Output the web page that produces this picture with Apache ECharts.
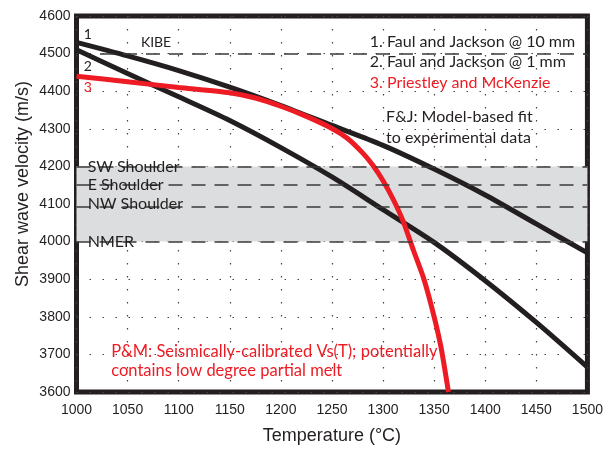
<!DOCTYPE html>
<html>
<head>
<meta charset="utf-8">
<script src="https://cdn.jsdelivr.net/npm/echarts@6/dist/echarts.min.js"></script>
<style>html,body{margin:0;padding:0;background:#fff}#c{width:606px;height:450px}</style>
</head>
<body>
<div id="c"></div>
<script>
// ---- data ----
const fj10T = [1000, 1050, 1100, 1150, 1200, 1250, 1300, 1350, 1400, 1450, 1500];
const fj10V = [4530, 4494, 4455, 4411, 4362, 4309, 4256, 4193, 4124, 4047, 3970];
const fj1T  = [1000, 1050, 1100, 1150, 1200, 1250, 1300, 1350, 1400, 1450, 1500];
const fj1V  = [4510, 4447, 4385, 4322, 4250, 4172, 4085, 3998, 3896, 3785, 3666];
const pmT   = [1000, 1050, 1100, 1150, 1175, 1200, 1225, 1250, 1265, 1280, 1290, 1300, 1310, 1320, 1330, 1340, 1350, 1357, 1364];
const pmV   = [4440, 4425, 4410, 4396, 4382, 4360, 4333, 4301, 4275, 4236, 4203, 4162, 4112, 4052, 3975, 3900, 3800, 3715, 3600];
const bandRange = [4000, 4200];
const regionNames = ['SW Shoulder', 'E Shoulder', 'NW Shoulder', 'NMER'];
const regionValues = [4200, 4150, 4093, 4000];
const kibeValue = 4500;
const kibeStartT = 1023;
const xTicks = {min: 1000, max: 1500, step: 50};
const yTicks = {min: 3600, max: 4600, step: 100};

const BLACK = '#231f20', RED = '#ed1c24';
const ANN_FONT = 'Lato';

const chart = echarts.init(document.getElementById('c'), null, {renderer: 'canvas'});
const pairs = (t, v) => t.map((x, i) => [x, v[i]]);
const plain = v => String(v);

const option = {
  animation: false,
  grid: {left: 76.5, right: 14, top: 16, bottom: 56, show: true, borderColor: BLACK, borderWidth: 5, backgroundColor: 'transparent'},
  xAxis: {
    type: 'value', min: xTicks.min, max: xTicks.max, interval: xTicks.step,
    axisLine: {show: false}, axisTick: {show: false},
    axisLabel: {fontFamily: 'Liberation Sans', fontSize: 14, color: BLACK, margin: 11, formatter: plain},
    splitLine: {show: true, lineStyle: {color: '#444', width: 1.2, type: [1.5, 11.5]}},
    name: 'Temperature (°C)', nameLocation: 'middle', nameGap: 35,
    nameTextStyle: {fontFamily: 'Liberation Sans', fontSize: 18, color: BLACK}
  },
  yAxis: {
    type: 'value', min: yTicks.min, max: yTicks.max, interval: yTicks.step,
    axisLine: {show: false}, axisTick: {show: false},
    axisLabel: {fontFamily: 'Liberation Sans', fontSize: 14, color: BLACK, margin: 6, formatter: plain},
    splitLine: {show: true, lineStyle: {color: '#444', width: 1.2, type: [1.5, 11.5]}}
  },
  series: [
    {
      type: 'line', data: [], z: -1, silent: true,
      markArea: {silent: true, itemStyle: {color: '#dcdddf'},
        data: [[{xAxis: xTicks.min, yAxis: bandRange[0]}, {xAxis: xTicks.max, yAxis: bandRange[1]}]]}
    },
    {
      type: 'line', data: [], z: 1, silent: true,
      markLine: {silent: true, symbol: 'none', label: {show: false},
        lineStyle: {color: '#3a3a3a', width: 1.5, type: [14, 9]},
        data: regionValues.map(v => ({yAxis: v})).concat([[{coord: [kibeStartT, kibeValue]}, {coord: [xTicks.max, kibeValue]}]])}
    },
    {name: 'FJ10', type: 'line', data: pairs(fj10T, fj10V), smooth: 0.3, showSymbol: false, lineStyle: {color: BLACK, width: 5}, z: 3},
    {name: 'FJ1', type: 'line', data: pairs(fj1T, fj1V), smooth: 0.3, showSymbol: false, lineStyle: {color: BLACK, width: 5}, z: 3},
    {name: 'PM', type: 'line', data: pairs(pmT, pmV), smooth: 0.2, showSymbol: false, lineStyle: {color: RED, width: 5}, z: 4}
  ]
};
chart.setOption(option);

// ---- annotations (anchored in data coordinates) ----
const notes = [
  {text: '1', at: [1007, 4550], color: BLACK, size: 14},
  {text: '2', at: [1007, 4465], color: BLACK, size: 14},
  {text: '3', at: [1007, 4410], color: RED, size: 14},
  {text: 'KIBE', at: [1063, 4530], color: BLACK, size: 14},
  {text: '1. Faul and Jackson @ 10 mm', at: [1287, 4531], color: BLACK, size: 16},
  {text: '2. Faul and Jackson @ 1 mm', at: [1287, 4477], color: BLACK, size: 16},
  {text: '3. Priestley and McKenzie', at: [1287, 4423], color: RED, size: 16},
  {text: 'F&J: Model-based fit', at: [1303, 4331], color: BLACK, size: 16},
  {text: 'to experimental data', at: [1303, 4277], color: BLACK, size: 16},
  {text: regionNames[0], at: [1011, 4200], color: BLACK, size: 16},
  {text: regionNames[1], at: [1011, 4150], color: BLACK, size: 16},
  {text: regionNames[2], at: [1011, 4100], color: BLACK, size: 16},
  {text: regionNames[3], at: [1011, 4000], color: BLACK, size: 16},
  {text: 'P&M: Seismically-calibrated Vs(T); potentially', at: [1034, 3708], color: RED, size: 16.5},
  {text: 'contains low degree partial melt', at: [1034, 3658], color: RED, size: 16.5}
];
const graphics = notes.map(n => {
  const p = chart.convertToPixel({gridIndex: 0}, n.at);
  return {type: 'text', x: p[0], y: p[1], z: 10, silent: true,
    style: {text: n.text, fill: n.color, font: n.size + 'px ' + ANN_FONT, textAlign: 'left', textVerticalAlign: 'middle'}};
});
// y axis title
graphics.push({type: 'text', x: 23, y: 184, rotation: Math.PI / 2, z: 10, silent: true,
  style: {text: 'Shear wave velocity (m/s)', fill: BLACK, font: '18px "Liberation Sans"', textAlign: 'center', textVerticalAlign: 'middle'}});
chart.setOption({graphic: graphics});
</script>
</body>
</html>
